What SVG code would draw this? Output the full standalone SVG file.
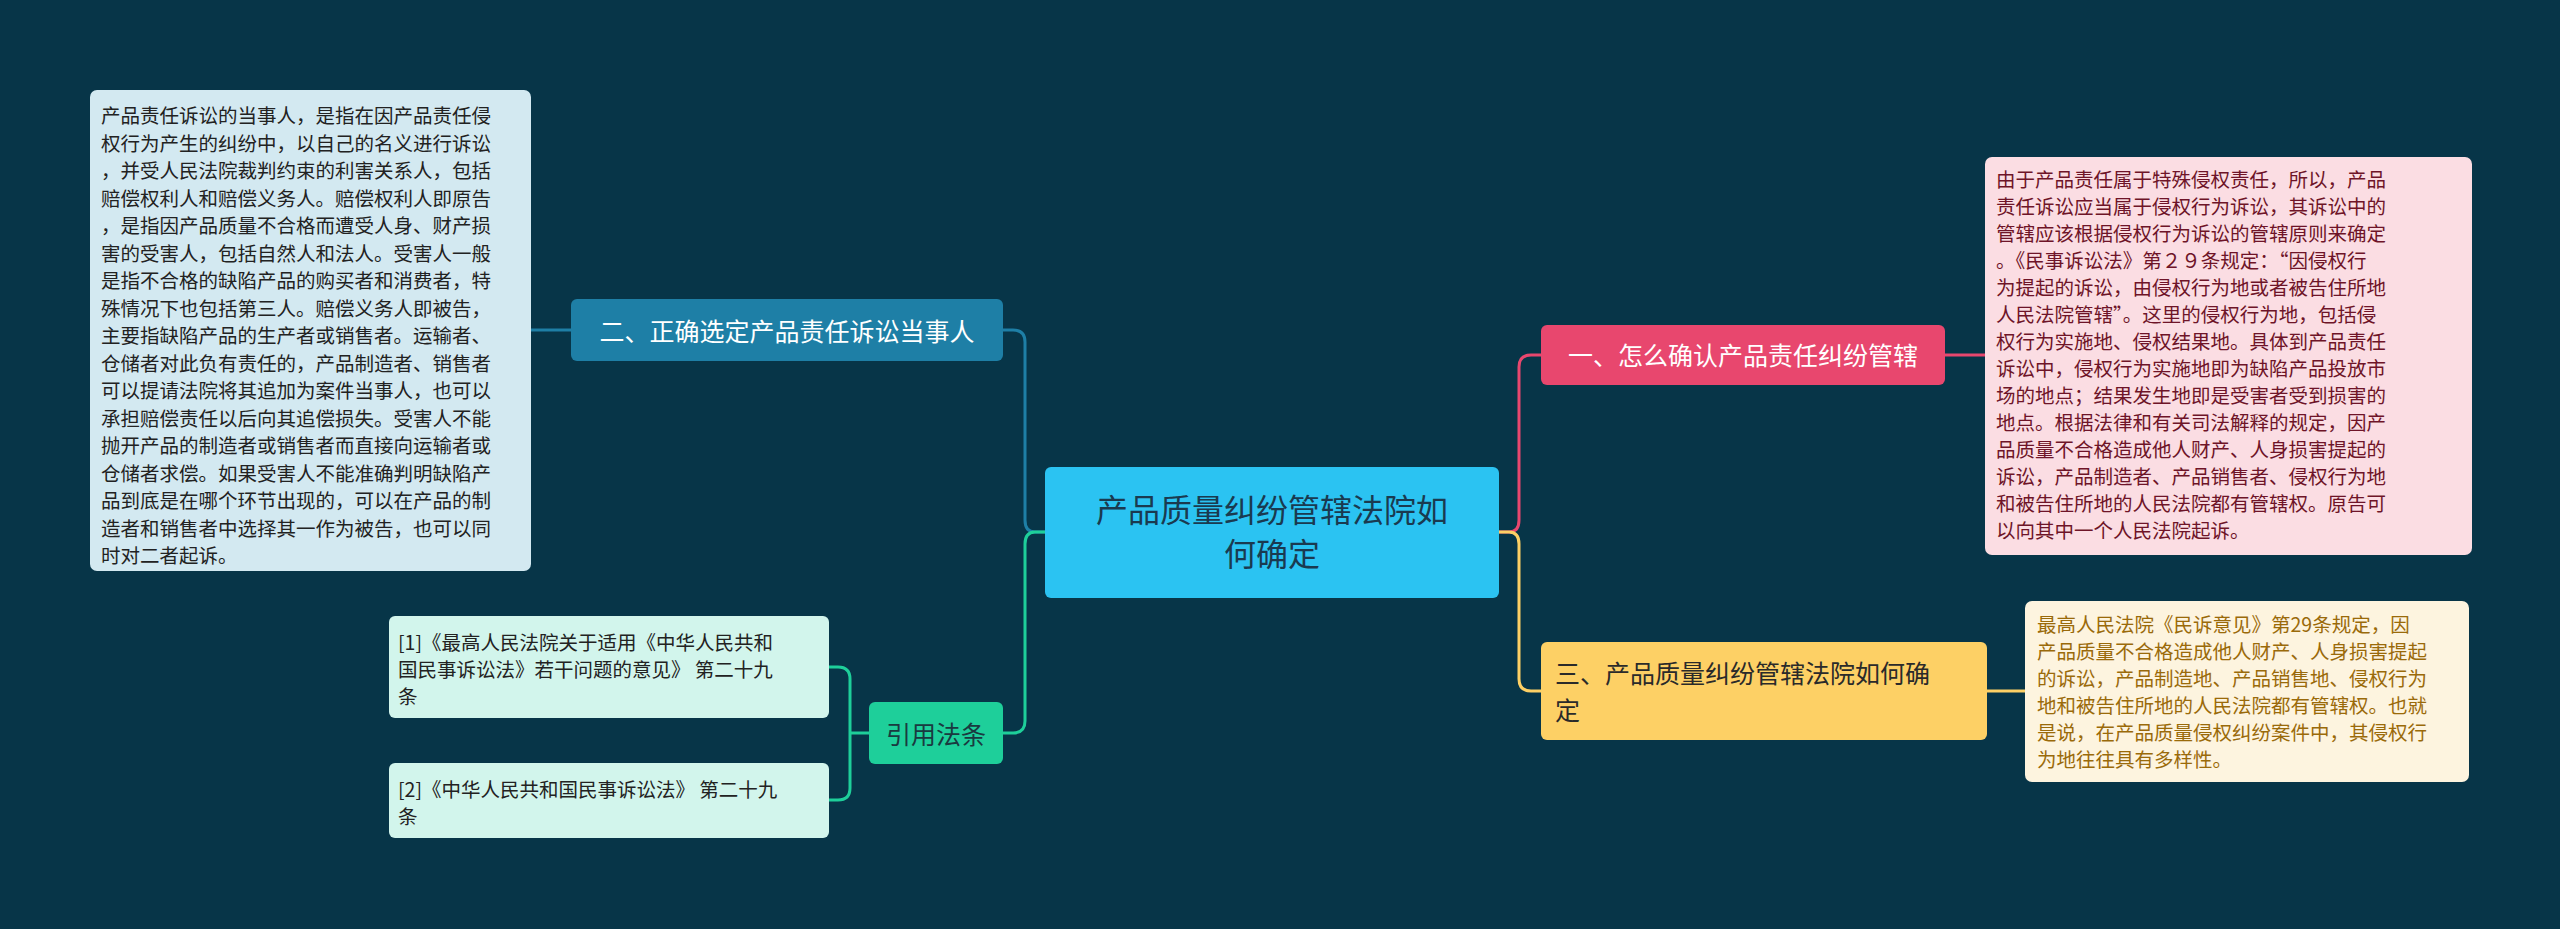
<svg xmlns="http://www.w3.org/2000/svg" width="2560" height="929" viewBox="0 0 2560 929">
<style>
text{font-family:"Noto Sans CJK SC","Noto Sans",sans-serif}
.d{font-size:19.5px}
.c{fill:none;stroke-width:3}
</style>
<rect width="2560" height="929" fill="#073548"/>
<g id="connectors">
<path class="c" stroke="#1e7fa6" d="M1045,532 H1035 Q1025,532 1025,520 V342 Q1025,330 1013,330 H1003"/>
<path class="c" stroke="#1ecf9a" d="M1045,532 H1035 Q1025,532 1025,544 V721 Q1025,733 1013,733 H1003"/>
<path class="c" stroke="#e8476e" d="M1499,532 H1509 Q1519,532 1519,520 V367 Q1519,355 1531,355 H1541"/>
<path class="c" stroke="#fdd065" d="M1499,532 H1509 Q1519,532 1519,544 V679 Q1519,691 1531,691 H1541"/>
<path class="c" stroke="#1e7fa6" d="M571,330 H531"/>
<path class="c" stroke="#e8476e" d="M1945,355 H1985"/>
<path class="c" stroke="#fdd065" d="M1987,691 H2025"/>
<path class="c" stroke="#1ecf9a" d="M869,733 H850 M829,667 H838 Q850,667 850,679 V788 Q850,800 838,800 H829"/>
</g>
<g id="center"><rect x="1045" y="467" width="454" height="131" rx="6" fill="#2bc3f2"/>
<text x="1272" y="522" font-size="32" fill="#1a3a50" text-anchor="middle">产品质量纠纷管辖法院如</text>
<text x="1272" y="566" font-size="32" fill="#1a3a50" text-anchor="middle">何确定</text></g>
<g id="n2"><rect x="571" y="299" width="432" height="62" rx="6" fill="#1e7fa6"/>
<text x="787" y="341" font-size="25" fill="#fff" text-anchor="middle">二、正确选定产品责任诉讼当事人</text></g>
<g id="d2"><rect x="90" y="90" width="441" height="481" rx="7" fill="#d3e9f1"/>
<text class="d" fill="#222" x="101"><tspan y="123" x="101">产品责任诉讼的当事人，是指在因产品责任侵</tspan><tspan y="150.5" x="101">权行为产生的纠纷中，以自己的名义进行诉讼</tspan><tspan y="178" x="101">，并受人民法院裁判约束的利害关系人，包括</tspan><tspan y="205.5" x="101">赔偿权利人和赔偿义务人。赔偿权利人即原告</tspan><tspan y="233" x="101">，是指因产品质量不合格而遭受人身、财产损</tspan><tspan y="260.5" x="101">害的受害人，包括自然人和法人。受害人一般</tspan><tspan y="288" x="101">是指不合格的缺陷产品的购买者和消费者，特</tspan><tspan y="315.5" x="101">殊情况下也包括第三人。赔偿义务人即被告，</tspan><tspan y="343" x="101">主要指缺陷产品的生产者或销售者。运输者、</tspan><tspan y="370.5" x="101">仓储者对此负有责任的，产品制造者、销售者</tspan><tspan y="398" x="101">可以提请法院将其追加为案件当事人，也可以</tspan><tspan y="425.5" x="101">承担赔偿责任以后向其追偿损失。受害人不能</tspan><tspan y="453" x="101">抛开产品的制造者或销售者而直接向运输者或</tspan><tspan y="480.5" x="101">仓储者求偿。如果受害人不能准确判明缺陷产</tspan><tspan y="508" x="101">品到底是在哪个环节出现的，可以在产品的制</tspan><tspan y="535.5" x="101">造者和销售者中选择其一作为被告，也可以同</tspan><tspan y="563" x="101">时对二者起诉。</tspan></text></g>
<g id="n4"><rect x="869" y="702" width="134" height="62" rx="6" fill="#1ecf9a"/>
<text x="936" y="744" font-size="25" fill="#1a3a40" text-anchor="middle">引用法条</text></g>
<g id="r1"><rect x="389" y="616" width="440" height="102" rx="6" fill="#d2f5ec"/>
<text class="d" fill="#222"><tspan x="398" y="650">[1]《最高人民法院关于适用《中华人民共和</tspan><tspan x="398" y="677">国民事诉讼法》若干问题的意见》 第二十九</tspan><tspan x="398" y="704">条</tspan></text></g>
<g id="r2"><rect x="389" y="763" width="440" height="75" rx="6" fill="#d2f5ec"/>
<text class="d" fill="#222"><tspan x="398" y="797">[2]《中华人民共和国民事诉讼法》 第二十九</tspan><tspan x="398" y="824">条</tspan></text></g>
<g id="n1"><rect x="1541" y="325" width="404" height="60" rx="6" fill="#e8476e"/>
<text x="1743" y="365" font-size="25" fill="#fff" text-anchor="middle">一、怎么确认产品责任纠纷管辖</text></g>
<g id="d1"><rect x="1985" y="157" width="487" height="398" rx="7" fill="#fbdde3"/>
<text class="d" fill="#6e1428"><tspan x="1996" y="187">由于产品责任属于特殊侵权责任，所以，产品</tspan><tspan x="1996" y="214">责任诉讼应当属于侵权行为诉讼，其诉讼中的</tspan><tspan x="1996" y="241">管辖应该根据侵权行为诉讼的管辖原则来确定</tspan><tspan x="1996" y="268">。《民事诉讼法》第２９条规定：“因侵权行</tspan><tspan x="1996" y="295">为提起的诉讼，由侵权行为地或者被告住所地</tspan><tspan x="1996" y="322">人民法院管辖”。这里的侵权行为地，包括侵</tspan><tspan x="1996" y="349">权行为实施地、侵权结果地。具体到产品责任</tspan><tspan x="1996" y="376">诉讼中，侵权行为实施地即为缺陷产品投放市</tspan><tspan x="1996" y="403">场的地点；结果发生地即是受害者受到损害的</tspan><tspan x="1996" y="430">地点。根据法律和有关司法解释的规定，因产</tspan><tspan x="1996" y="457">品质量不合格造成他人财产、人身损害提起的</tspan><tspan x="1996" y="484">诉讼，产品制造者、产品销售者、侵权行为地</tspan><tspan x="1996" y="511">和被告住所地的人民法院都有管辖权。原告可</tspan><tspan x="1996" y="538">以向其中一个人民法院起诉。</tspan></text></g>
<g id="n3"><rect x="1541" y="642" width="446" height="98" rx="6" fill="#fdd065"/>
<text font-size="25" fill="#2a2a2a"><tspan x="1555" y="683">三、产品质量纠纷管辖法院如何确</tspan><tspan x="1555" y="720">定</tspan></text></g>
<g id="d3"><rect x="2025" y="601" width="444" height="181" rx="7" fill="#fdf4df"/>
<text class="d" fill="#9a6a0a"><tspan x="2037" y="632">最高人民法院《民诉意见》第29条规定，因</tspan><tspan x="2037" y="659">产品质量不合格造成他人财产、人身损害提起</tspan><tspan x="2037" y="686">的诉讼，产品制造地、产品销售地、侵权行为</tspan><tspan x="2037" y="713">地和被告住所地的人民法院都有管辖权。也就</tspan><tspan x="2037" y="740">是说，在产品质量侵权纠纷案件中，其侵权行</tspan><tspan x="2037" y="767">为地往往具有多样性。</tspan></text></g>
</svg>
